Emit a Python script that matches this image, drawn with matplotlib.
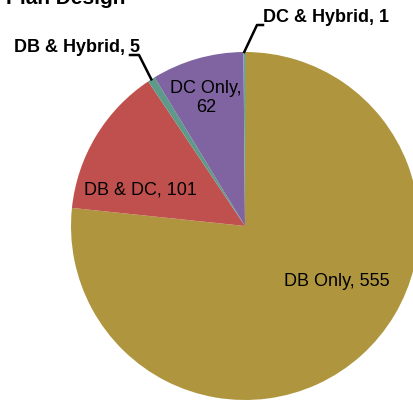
import numpy as np
from matplotlib import pyplot as plt

W, H = 413, 401

categories = ['DB Only', 'DB & DC', 'DB & Hybrid', 'DC Only', 'DC & Hybrid']
counts = [555, 101, 5, 62, 1]
colors = ['#AF963E', '#C0504D', '#5E9A8A', '#8064A2', '#4BACC6']

plt.rcParams['font.family'] = ['Liberation Sans', 'DejaVu Sans']

fig = plt.figure(figsize=(W / 100, H / 100), dpi=100)
ax = fig.add_axes([0, 0, 1, 1])

cx, cy, r = 245, H - 226, 174
wedges, _ = ax.pie(counts, colors=colors, startangle=90, counterclock=False,
                   center=(cx, cy), radius=r, wedgeprops=dict(linewidth=0))

ax.set_xlim(0, W)
ax.set_ylim(0, H)
ax.set_aspect('equal')
ax.axis('off')


def rim(i):
    w = wedges[i]
    a = np.deg2rad((w.theta1 + w.theta2) / 2)
    return cx + r * np.cos(a), cy + r * np.sin(a)


# labels inside the slices
ax.text(337, H - 282, f'{categories[0]}, {counts[0]}', ha='center', va='center', fontsize=13)
ax.text(140, H - 190, f'{categories[1]}, {counts[1]}', ha='center', va='center', fontsize=13)
ax.text(206, H - 98, f'{categories[3]},\n{counts[3]}', ha='center', va='center',
        fontsize=13, linespacing=1.15)

# small slices with leader lines
ax.text(140, H - 47, f'{categories[2]}, {counts[2]}', ha='right', va='center',
        fontsize=13, fontweight='bold')
x, y = rim(2)
ax.plot([130, 139, x], [H - 55, H - 55, y], color='black', lw=1.8)

ax.text(263, H - 18, f'{categories[4]}, {counts[4]}', ha='left', va='center',
        fontsize=13, fontweight='bold')
x, y = rim(4)
ax.plot([263, 257, x], [H - 25, H - 25, y], color='black', lw=1.8)

# title, cut off at the top as in the source image
ax.text(125, H - 4, 'Plan Design', ha='right', va='baseline',
        fontsize=15, fontweight='bold')

fig.savefig('out.png', dpi=100)
